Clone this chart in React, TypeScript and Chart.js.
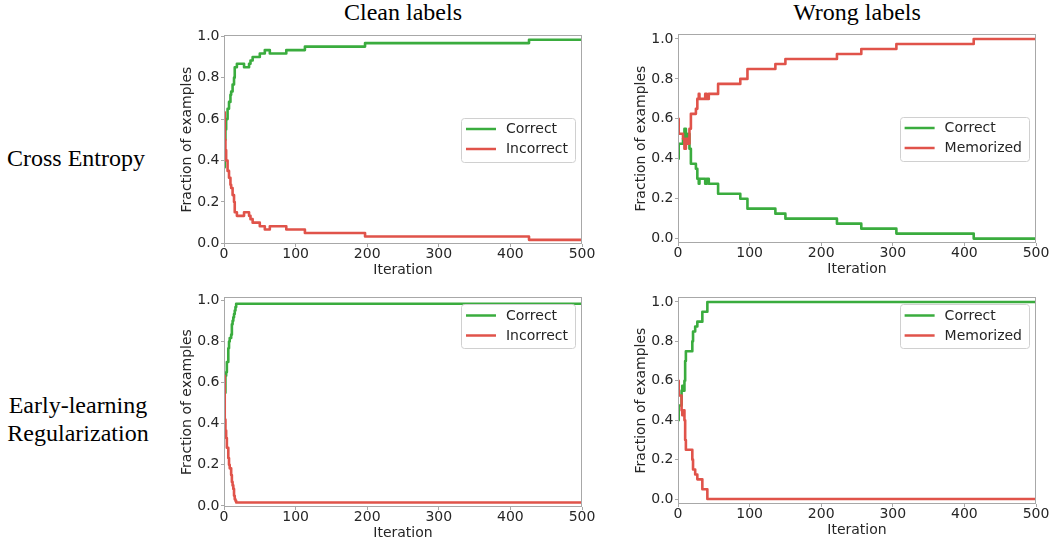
import React, { useEffect, useRef } from 'react';
import { Chart, registerables } from 'chart.js';

Chart.register(...registerables);

// ---------------- data (iterations at which the value changes; last = end) ----------------
const ceCleanIter = [0, 1, 2, 3, 5, 7, 9, 10, 12, 14, 15, 18, 28, 35, 37, 40, 50, 57, 64, 87, 113, 197, 426, 500];
const ceCleanCorrect = [0.367, 0.5, 0.55, 0.6, 0.65, 0.683, 0.717, 0.733, 0.767, 0.8, 0.85, 0.867, 0.85, 0.867, 0.883, 0.9, 0.917, 0.933, 0.917, 0.933, 0.95, 0.967, 0.983, 0.983];
const ceCleanIncorrect = [0.633, 0.5, 0.45, 0.4, 0.35, 0.317, 0.283, 0.267, 0.233, 0.2, 0.15, 0.133, 0.15, 0.133, 0.117, 0.1, 0.083, 0.067, 0.083, 0.067, 0.05, 0.033, 0.017, 0.017];

const ceWrongIter = [0, 1, 7, 9, 11, 14, 16, 18, 25, 27, 29, 30, 38, 40, 43, 56, 87, 97, 136, 150, 222, 256, 305, 413, 500];
const ceWrongCorrect = [0.4, 0.475, 0.5, 0.55, 0.5, 0.525, 0.45, 0.375, 0.35, 0.3, 0.275, 0.3, 0.275, 0.3, 0.275, 0.225, 0.2, 0.15, 0.125, 0.1, 0.075, 0.05, 0.025, 0.0, 0.0];
const ceWrongMemorized = [0.6, 0.525, 0.5, 0.45, 0.5, 0.475, 0.55, 0.625, 0.65, 0.7, 0.725, 0.7, 0.725, 0.7, 0.725, 0.775, 0.8, 0.85, 0.875, 0.9, 0.925, 0.95, 0.975, 1.0, 1.0];

const elrCleanIter = [0, 1, 2, 3, 4, 6, 7, 8, 10, 11, 12, 13, 14, 15, 16, 17, 500];
const elrCleanCorrect = [0.367, 0.55, 0.633, 0.65, 0.7, 0.767, 0.8, 0.817, 0.833, 0.883, 0.9, 0.917, 0.933, 0.95, 0.967, 0.983, 0.983];
const elrCleanIncorrect = [0.633, 0.42, 0.367, 0.33, 0.283, 0.233, 0.2, 0.183, 0.15, 0.117, 0.1, 0.083, 0.05, 0.033, 0.025, 0.017, 0.017];

const elrWrongIter = [0, 1, 5, 6, 8, 9, 10, 11, 20, 21, 24, 27, 34, 41, 500];
const elrWrongCorrect = [0.4, 0.475, 0.55, 0.575, 0.55, 0.6, 0.7, 0.75, 0.8, 0.85, 0.875, 0.9, 0.95, 1.0, 1.0];
const elrWrongMemorized = [0.6, 0.525, 0.45, 0.425, 0.45, 0.4, 0.3, 0.25, 0.2, 0.15, 0.125, 0.1, 0.05, 0.0, 0.0];

const xTickValues = [0, 100, 200, 300, 400, 500];
const yTickValues = [0, 0.2, 0.4, 0.6, 0.8, 1.0];

const columnTitles = ['Clean labels', 'Wrong labels'];
const rowTitles = [['Cross Entropy'], ['Early-learning', 'Regularization']];
const cleanLegend = ['Correct', 'Incorrect'];
const wrongLegend = ['Correct', 'Memorized'];

// ---------------- styling / layout ----------------
const GREEN = '#3aac3e';
const RED = '#e0534a';
const SPINE = '#a8a8a8';
const TEXT = '#262626';
const FONT = '"DejaVu Sans", sans-serif';
const YAXIS_W = 56;
const XAXIS_H = 40;
const PAD_T = 10;
const PAD_R = 18;

type Panel = {
  area: { l: number; r: number; t: number; b: number };
  yMin: number;
  yMax: number;
  legendLoc: 'center' | 'upper';
  iter: number[];
  a: number[];
  b: number[];
  labels: string[];
};

const panels: Panel[] = [
  { area: { l: 224, r: 582, t: 35, b: 244 }, yMin: -0.003, yMax: 1.006, legendLoc: 'center', iter: ceCleanIter, a: ceCleanCorrect, b: ceCleanIncorrect, labels: cleanLegend },
  { area: { l: 678, r: 1036, t: 34, b: 243 }, yMin: -0.022, yMax: 1.025, legendLoc: 'center', iter: ceWrongIter, a: ceWrongCorrect, b: ceWrongMemorized, labels: wrongLegend },
  { area: { l: 224, r: 582, t: 297, b: 507 }, yMin: -0.005, yMax: 1.016, legendLoc: 'upper', iter: elrCleanIter, a: elrCleanCorrect, b: elrCleanIncorrect, labels: cleanLegend },
  { area: { l: 678, r: 1036, t: 297, b: 504 }, yMin: -0.025, yMax: 1.025, legendLoc: 'upper', iter: elrWrongIter, a: elrWrongCorrect, b: elrWrongMemorized, labels: wrongLegend },
];

const framePlugin = {
  id: 'frame',
  afterDraw(chart: any) {
    const { ctx, chartArea } = chart;
    ctx.save();
    ctx.strokeStyle = SPINE;
    ctx.lineWidth = 1;
    const l = Math.round(chartArea.left) + 0.5;
    const r = Math.round(chartArea.right) - 0.5;
    const t = Math.round(chartArea.top) + 0.5;
    const b = Math.round(chartArea.bottom) - 0.5;
    ctx.strokeRect(l, t, r - l, b - t);
    ctx.restore();
  },
};

const legendPlugin = {
  id: 'boxLegend',
  afterDraw(chart: any, _args: any, opts: any) {
    const { ctx, chartArea } = chart;
    ctx.save();
    ctx.font = `14px ${FONT}`;
    const ds = chart.data.datasets;
    const textW = Math.max(...ds.map((d: any) => ctx.measureText(d.label).width));
    const w = 5 + 30 + 10 + textW + 7;
    const h = 44;
    const x = chartArea.right - 7 - w;
    const y = opts.loc === 'center' ? (chartArea.top + chartArea.bottom) / 2 - h / 2 : chartArea.top + 7;
    ctx.beginPath();
    (ctx as any).roundRect(Math.round(x) + 0.5, Math.round(y) + 0.5, Math.round(w), h, 3);
    ctx.fillStyle = 'rgba(255,255,255,0.85)';
    ctx.fill();
    ctx.strokeStyle = '#d0d0d0';
    ctx.lineWidth = 1;
    ctx.stroke();
    ds.forEach((d: any, i: number) => {
      const cy = y + 11.5 + i * 20;
      ctx.beginPath();
      ctx.strokeStyle = d.borderColor;
      ctx.lineWidth = 2.5;
      ctx.moveTo(x + 5, cy);
      ctx.lineTo(x + 35, cy);
      ctx.stroke();
      ctx.fillStyle = TEXT;
      ctx.textBaseline = 'middle';
      ctx.textAlign = 'left';
      ctx.fillText(d.label, x + 45, cy + 0.5);
    });
    ctx.restore();
  },
};

function PanelChart({ p }: { p: Panel }) {
  const ref = useRef<HTMLCanvasElement>(null);
  const width = p.area.r - p.area.l + YAXIS_W + PAD_R;
  const height = p.area.b - p.area.t + PAD_T + XAXIS_H;
  useEffect(() => {
    const mk = (vals: number[]) => p.iter.map((x, i) => ({ x, y: vals[i] }));
    const chart = new Chart(ref.current!, {
      type: 'line',
      data: {
        datasets: [
          { label: p.labels[0], data: mk(p.a), borderColor: GREEN, backgroundColor: GREEN, borderWidth: 2.6, pointRadius: 0, stepped: true, borderJoinStyle: 'round', order: 2 },
          { label: p.labels[1], data: mk(p.b), borderColor: RED, backgroundColor: RED, borderWidth: 2.6, pointRadius: 0, stepped: true, borderJoinStyle: 'round', order: 1 },
        ],
      },
      options: {
        animation: false,
        responsive: false,
        events: [],
        layout: { padding: { top: PAD_T, right: PAD_R, left: 0, bottom: 0 } },
        plugins: {
          legend: { display: false },
          tooltip: { enabled: false },
          boxLegend: { loc: p.legendLoc },
        } as any,
        scales: {
          x: {
            type: 'linear',
            min: 0,
            max: 500,
            afterFit: (s: any) => { s.height = XAXIS_H; },
            afterBuildTicks: (s: any) => { s.ticks = xTickValues.map((v) => ({ value: v })); },
            ticks: { color: TEXT, font: { family: FONT, size: 14, lineHeight: 1 }, padding: 0, maxRotation: 0, callback: (v: any) => String(v) },
            grid: { drawOnChartArea: false, drawTicks: true, tickLength: 3, color: SPINE },
            border: { display: false },
            title: { display: true, text: 'Iteration', color: TEXT, font: { family: FONT, size: 14, lineHeight: 1.2 }, padding: { top: 0, bottom: 5.3 } },
          },
          y: {
            type: 'linear',
            min: p.yMin,
            max: p.yMax,
            afterFit: (s: any) => { s.width = YAXIS_W; },
            afterBuildTicks: (s: any) => { s.ticks = yTickValues.map((v) => ({ value: v })); },
            ticks: { color: TEXT, font: { family: FONT, size: 14, lineHeight: 1 }, padding: 1.5, callback: (v: any) => Number(v).toFixed(1) },
            grid: { drawOnChartArea: false, drawTicks: true, tickLength: 3, color: SPINE },
            border: { display: false },
            title: { display: true, text: 'Fraction of examples', color: TEXT, font: { family: FONT, size: 14, lineHeight: 1.2 }, padding: { top: 10.6, bottom: 0 } },
          },
        },
      },
      plugins: [framePlugin, legendPlugin],
    } as any);
    return () => chart.destroy();
  }, []);
  return (
    <canvas
      ref={ref}
      width={width}
      height={height}
      style={{ position: 'absolute', left: p.area.l - YAXIS_W, top: p.area.t - PAD_T, width, height, display: 'block' }}
    />
  );
}

const serif: React.CSSProperties = {
  position: 'absolute',
  fontFamily: '"Liberation Serif", "Times New Roman", serif',
  fontSize: 24,
  lineHeight: '24px',
  color: '#000',
  whiteSpace: 'nowrap',
  textAlign: 'center',
};

export default function App() {
  return (
    <div style={{ position: 'absolute', left: 0, top: 0, width: 1054, height: 541, overflow: 'hidden', background: '#fff' }}>
      <div style={{ ...serif, left: 303, width: 200, top: 0 }}>{columnTitles[0]}</div>
      <div style={{ ...serif, left: 757, width: 200, top: 0 }}>{columnTitles[1]}</div>
      <div style={{ ...serif, left: -24, width: 200, top: 146 }}>{rowTitles[0][0]}</div>
      <div style={{ ...serif, left: -22, width: 200, top: 393 }}>{rowTitles[1][0]}</div>
      <div style={{ ...serif, left: -22, width: 200, top: 421 }}>{rowTitles[1][1]}</div>
      {panels.map((p, i) => (
        <PanelChart key={i} p={p} />
      ))}
    </div>
  );
}
